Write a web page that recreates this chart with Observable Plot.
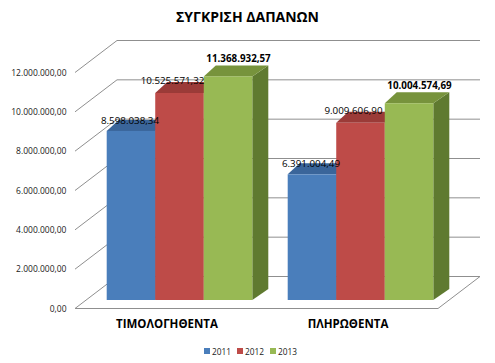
<!DOCTYPE html>
<html><head><meta charset="utf-8">
<script src="https://cdn.jsdelivr.net/npm/d3@7"></script>
<script src="https://cdn.jsdelivr.net/npm/@observablehq/plot@0.6"></script>
<style>
body{margin:0;background:#fff;}
#wrap{position:relative;width:495px;height:363px;font-family:"Open Sans",sans-serif;overflow:hidden;background:#fff}
#chart{position:absolute;left:0;top:0}
#title{position:absolute;left:0;top:7px;width:495px;text-align:center;font-weight:bold;font-size:14px;line-height:20px;color:#000}
#legend{position:absolute;left:204px;top:343px;height:16px;display:flex;align-items:center;font-size:8.3px;color:#1a1a1a}
#legend .sw{width:6px;height:6px;margin-right:2px;display:inline-block}
#legend .it{display:flex;align-items:center;margin-right:6px}
</style></head>
<body><div id="wrap"><div id="chart"></div><div id="title"></div><div id="legend"></div></div>
<script>
const title = "ΣΥΓΚΡΙΣΗ ΔΑΠΑΝΩΝ";
const categories = ["ΤΙΜΟΛΟΓΗΘΕΝΤΑ", "ΠΛΗΡΩΘΕΝΤΑ"];
const years = ["2011", "2012", "2013"];
const values2011 = [8598038.34, 6391004.49];
const values2012 = [10525571.32, 9009606.90];
const values2013 = [11368932.57, 10004574.69];
const yTicks = [0, 2000000, 4000000, 6000000, 8000000, 10000000, 12000000];

const frontColors = ["#4A7EBB", "#BE4B48", "#98B954"];
const topColors = ["#3A659A", "#9B3B38", "#77933C"];
const sideColors = ["#33598A", "#8A3431", "#5F7A30"];
const labelBold = [false, false, true];
const labelDx = [-1, -7, 10.5];
const labelDy = [-10.5, -12, -17.5];

const series = [values2011, values2012, values2013];
const rows = categories.flatMap((c, i) => years.map((yr, j) => ({category: c, year: yr, yi: j, value: series[j][i]})));

const loc = d3.formatLocale({decimal: ",", thousands: ".", grouping: [3], currency: ["", ""]});
const fmt = loc.format(",.2f");

document.getElementById("title").textContent = title;
const leg = document.getElementById("legend");
years.forEach((yr, j) => {
  const it = document.createElement("span"); it.className = "it";
  const sw = document.createElement("span"); sw.className = "sw"; sw.style.background = frontColors[j];
  const tx = document.createElement("span"); tx.textContent = yr;
  it.appendChild(sw); it.appendChild(tx); leg.appendChild(it);
});

function scene(index, scales, values, dims) {
  const x = scales.x, y = scales.y;
  const ns = "http://www.w3.org/2000/svg";
  const g = document.createElementNS(ns, "g");
  const el = (tag, attrs, text) => {
    const e = document.createElementNS(ns, tag);
    for (const k in attrs) e.setAttribute(k, attrs[k]);
    if (text != null) e.textContent = text;
    g.appendChild(e); return e;
  };
  const x0 = dims.marginLeft, x1 = dims.width - dims.marginRight;
  const DX = 42, DY = -32;
  const grid = "#8f8f8f";
  for (const t of yTicks) {
    const yy = y(t);
    el("polyline", {points: `${x0},${yy} ${x0 + DX},${yy + DY} ${x1 + DX},${yy + DY}`, fill: "none", stroke: grid, "stroke-width": 1});
  }
  const yb = y(0);
  el("polyline", {points: `${x0},${yb} ${x1},${yb} ${x1 + DX},${yb + DY}`, fill: "none", stroke: grid, "stroke-width": 1});

  const bw = x.bandwidth ? x.bandwidth() : (x1 - x0) / categories.length;
  const pad = bw * 0.0978;
  const barW = (bw - 2 * pad) / years.length;
  const BX = 13, BY = -8.5;
  const TL = 12, TR = 16, TD = -11;
  const labels = [];
  for (const c of categories) {
    for (const r of rows.filter(d => d.category === c)) {
      const j = r.yi;
      const xl = x(c) + pad + j * barW + BX;
      const xr = xl + barW;
      const yt = y(r.value) + BY;
      const ybb = y(0) + BY;
      el("polygon", {points: `${xr},${yt} ${xr + TR},${yt + TD} ${xr + TR},${ybb + TD} ${xr},${ybb}`, fill: sideColors[j]});
      el("polygon", {points: `${xl},${yt} ${xr},${yt} ${xr + TR},${yt + TD} ${xl + TL},${yt + TD}`, fill: topColors[j]});
      el("rect", {x: xl, y: yt, width: barW, height: ybb - yt, fill: frontColors[j]});
      labels.push({x: (xl + xr) / 2 + labelDx[j], y: yt + labelDy[j], t: fmt(r.value), b: labelBold[j]});
    }
  }
  for (const l of labels) {
    el("text", {x: l.x, y: l.y, dy: "0.35em", "text-anchor": "middle", "font-size": 9.8, "font-weight": l.b ? "bold" : "normal", fill: "#000"}, l.t);
  }
  return g;
}

const chart = Plot.plot({
  width: 495,
  height: 363,
  marginTop: 72.5,
  marginBottom: 54.5,
  marginLeft: 75,
  marginRight: 57,
  style: {fontFamily: "'Open Sans', sans-serif", background: "transparent", overflow: "visible"},
  x: {type: "band", domain: categories, padding: 0, axis: null},
  y: {domain: [0, 12000000], axis: null},
  marks: [
    scene,
    Plot.text(yTicks, {y: d => d, text: d => fmt(d), frameAnchor: "left", textAnchor: "end", dx: -9, fontSize: 8.5, fill: "#1a1a1a"}),
    Plot.text(categories, {x: d => d, text: d => d, frameAnchor: "bottom", dy: 18.5, fontWeight: "bold", fontSize: 11.5, fill: "#000"})
  ]
});
document.getElementById("chart").appendChild(chart);
</script>
</body></html>
